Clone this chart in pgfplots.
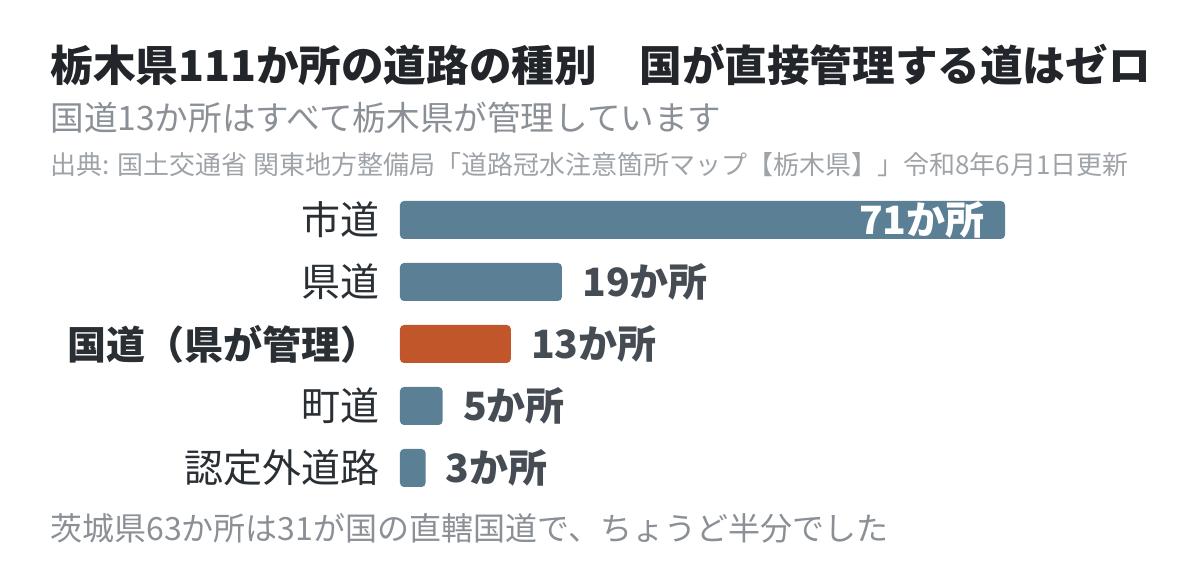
\documentclass[border=0pt]{standalone}
\usepackage{pgfplots}
\pgfplotsset{compat=1.18}
\usepackage{fontspec}
\setmainfont{Noto Sans CJK JP}
\definecolor{barblue}{HTML}{5B7F95}
\definecolor{barorange}{HTML}{C0562A}
\definecolor{titlec}{HTML}{22262A}
\definecolor{subc}{HTML}{8A9096}
\definecolor{srcc}{HTML}{9EA3A8}
\definecolor{valc}{HTML}{464C54}
\definecolor{catc}{HTML}{2A2F34}

\begin{document}
\begin{tikzpicture}
\path[use as bounding box] (0,0) rectangle (600pt,288pt);
\node[anchor=west,inner sep=0pt,text=titlec,
  font=\fontsize{21.3}{25}\selectfont\bfseries] at (25pt,255.5pt)
  {栃木県111か所の道路の種別\hspace{1em}国が直接管理する道はゼロ};
\node[anchor=west,inner sep=0pt,text=subc,
  font=\fontsize{16.8}{20}\selectfont] at (25pt,229pt)
  {国道13か所はすべて栃木県が管理しています};
\node[anchor=west,inner sep=0pt,text=srcc,
  font=\fontsize{13}{16}\selectfont] at (25pt,205.5pt)
  {出典: 国土交通省 関東地方整備局「道路冠水注意箇所マップ【栃木県】」令和8年6月1日更新};
\node[anchor=west,inner sep=0pt,text=subc,
  font=\fontsize{16}{19}\selectfont] at (25pt,24pt)
  {茨城県63か所は31が国の直轄国道で、ちょうど半分でした};
\begin{axis}[
  at={(200pt,38.5pt)}, anchor=south west,
  scale only axis, width=302.5pt, height=155pt,
  xbar, bar width=19pt, bar shift=0pt,
  xmin=0, xmax=71, ymin=-0.5, ymax=4.5, y dir=reverse,
  ytick={0,1,2,3,4},
  yticklabels={市道,県道,{\bfseries\color{catc}国道（県が管理）},町道,認定外道路},
  yticklabel style={font=\fontsize{19.5}{23}\selectfont, text=catc,
    inner sep=0pt, xshift=-10pt},
  xtick=\empty,
  axis line style={draw=none},
  major tick length=0pt,
  clip=false,
  point meta=x,
  /pgf/number format/assume math mode=true,
  nodes near coords={\pgfmathprintnumber{\pgfplotspointmeta}か所},
  nodes near coords style={font=\fontsize{19.5}{23}\selectfont\bfseries,
    inner sep=0pt},
]
\addplot[fill=barblue, draw=none, rounded corners=2pt,
  every node near coord/.append style={anchor=east, text=white, xshift=-10pt}]
  coordinates {(71,0)};
\addplot[fill=barblue, draw=none, rounded corners=2pt,
  every node near coord/.append style={anchor=west, text=valc, xshift=10pt}]
  coordinates {(19,1) (5,3) (3,4)};
\addplot[fill=barorange, draw=none, rounded corners=2pt,
  every node near coord/.append style={anchor=west, text=valc, xshift=10pt}]
  coordinates {(13,2)};
\end{axis}
\end{tikzpicture}
\end{document}
